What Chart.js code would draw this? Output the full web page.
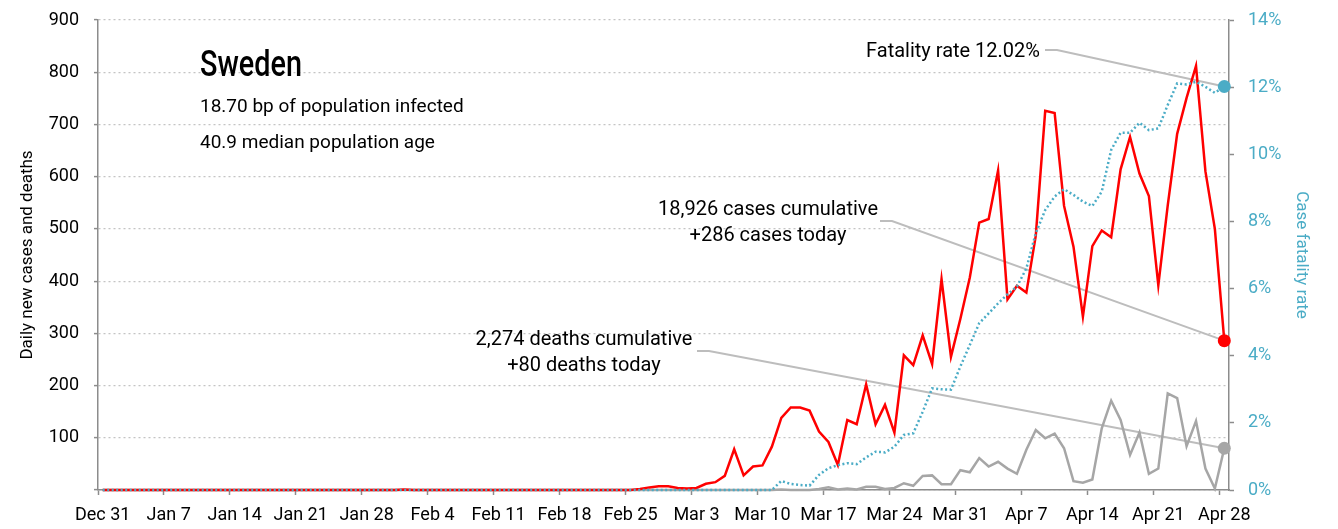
<!DOCTYPE html>
<html>
<head>
<meta charset="utf-8">
<script src="https://cdn.jsdelivr.net/npm/chart.js@4.4.1/dist/chart.umd.min.js"></script>
<style>
	body { margin: 0; background: #fff; }
	#wrap { width: 1338px; height: 529px; }
</style>
</head>
<body>
<div id="wrap"><canvas id="myChart" width="1338" height="529"></canvas></div>
<script>
	// one value per day, Dec 31 .. Apr 28 (7 per row = one week)
	var cases = [
		0, 0, 0, 0, 0, 0, 0,
		0, 0, 0, 0, 0, 0, 0,
		0, 0, 0, 0, 0, 0, 0,
		0, 0, 0, 0, 0, 0, 0,
		0, 0, 0, 0, 1, 0, 0,
		0, 0, 0, 0, 0, 0, 0,
		0, 0, 0, 0, 0, 0, 0,
		0, 0, 0, 0, 0, 0, 0,
		0, 2, 5, 7, 7, 4, 3,
		4, 12, 15, 27, 78, 28, 45,
		47, 83, 138, 158, 158, 152, 112,
		92, 48, 134, 126, 202, 126, 163,
		110, 258, 239, 296, 241, 404, 255,
		328, 407, 512, 519, 612, 365, 391,
		378, 487, 726, 722, 544, 466, 332,
		467, 497, 484, 614, 676, 606, 563,
		392, 545, 682, 751, 812, 610, 500,
		286
	];
	var deaths = [
		0, 0, 0, 0, 0, 0, 0,
		0, 0, 0, 0, 0, 0, 0,
		0, 0, 0, 0, 0, 0, 0,
		0, 0, 0, 0, 0, 0, 0,
		0, 0, 0, 0, 0, 0, 0,
		0, 0, 0, 0, 0, 0, 0,
		0, 0, 0, 0, 0, 0, 0,
		0, 0, 0, 0, 0, 0, 0,
		0, 0, 0, 0, 0, 0, 0,
		0, 0, 0, 0, 0, 0, 0,
		0, 0, 1, 0, 0, 0, 2,
		5, 1, 3, 1, 6, 6, 2,
		4, 13, 8, 27, 28, 11, 11,
		38, 34, 61, 45, 54, 41, 31,
		77, 115, 99, 108, 80, 17, 14,
		20, 118, 171, 134, 67, 110, 31,
		41, 185, 176, 84, 132, 41, 3,
		80
	];
	// case fatality rate, %
	var fatality = [
		0, 0, 0, 0, 0, 0, 0,
		0, 0, 0, 0, 0, 0, 0,
		0, 0, 0, 0, 0, 0, 0,
		0, 0, 0, 0, 0, 0, 0,
		0, 0, 0, 0, 0, 0, 0,
		0, 0, 0, 0, 0, 0, 0,
		0, 0, 0, 0, 0, 0, 0,
		0, 0, 0, 0, 0, 0, 0,
		0, 0, 0, 0, 0, 0, 0,
		0, 0, 0, 0, 0, 0, 0,
		0, 0, 0.27, 0.18, 0.15, 0.13, 0.45,
		0.65, 0.74, 0.80, 0.77, 0.97, 1.14, 1.12,
		1.29, 1.64, 1.69, 2.33, 3.03, 3.00, 2.99,
		3.68, 4.32, 4.97, 5.26, 5.56, 5.83, 6.06,
		6.60, 7.65, 8.34, 8.74, 8.96, 8.79, 8.59,
		8.46, 8.89, 10.13, 10.64, 10.64, 10.94, 10.72,
		10.77, 11.47, 12.11, 12.08, 12.16, 12.01, 11.83,
		12.02
	];
	var tickLabels = ['Dec 31', 'Jan 7', 'Jan 14', 'Jan 21', 'Jan 28', 'Feb 4', 'Feb 11', 'Feb 18',
		'Feb 25', 'Mar 3', 'Mar 10', 'Mar 17', 'Mar 24', 'Mar 31', 'Apr 7', 'Apr 14', 'Apr 21', 'Apr 28'];

	var country = 'Sweden';
	var infoLines = ['18.70 bp of population infected', '40.9 median population age'];
	var fatalityNote = ['Fatality rate 12.02%'];
	var casesNote = ['18,926 cases cumulative', '+286 cases today'];
	var deathsNote = ['2,274 deaths cumulative', '+80 deaths today'];

	var FONT = 'Roboto';
	var BLUE = '#4bacc6';
	var AXIS = '#8c8c8c';
	var last = cases.length - 1;

	// day i is drawn in the middle of its day slot
	function toPoints(arr) {
		var out = [];
		for (var i = 0; i < arr.length; i++) out.push({ x: i + 0.5, y: arr[i] });
		return out;
	}

	function endDot(ctx) {
		return ctx.dataIndex === last ? 6.5 : 0;
	}

	// fixed axis box size, no extra room asked above/below the plot
	function fixWidth(w) {
		return function (s) {
			s.width = w;
			s.paddingTop = 0;
			s.paddingBottom = 0;
		};
	}

	// leader line: text end -> short flat piece -> last point of a series
	function leader(chart, sx, sy, yScale, value) {
		var c = chart.ctx;
		var ex = chart.scales.x.getPixelForValue(last + 0.5);
		var ey = chart.scales[yScale].getPixelForValue(value);
		c.save();
		c.strokeStyle = '#bdbdbd';
		c.lineWidth = 2;
		c.beginPath();
		c.moveTo(sx, sy);
		c.lineTo(sx + 12, sy);
		c.lineTo(ex, ey);
		c.stroke();
		c.restore();
	}

	var notes = {
		id: 'notes',
		beforeDatasetsDraw: function (chart) {
			leader(chart, 1045, 50, 'y2', fatality[last]);
			leader(chart, 880, 221, 'y', cases[last]);
			leader(chart, 697, 351, 'y', deaths[last]);
		},
		afterDraw: function (chart) {
			var c = chart.ctx;
			c.save();
			c.fillStyle = '#000';
			c.textBaseline = 'middle';

			// title is a narrow face in the original, squeeze it a bit
			c.save();
			c.textAlign = 'left';
			c.translate(200, 67);
			c.scale(0.8, 1);
			c.font = '500 36px ' + FONT;
			c.fillText(country, 0, 0);
			c.restore();

			c.textAlign = 'left';
			c.font = '19px ' + FONT;
			c.fillText(infoLines[0], 200, 107);
			c.fillText(infoLines[1], 200, 143);

			c.font = '20px ' + FONT;
			c.textAlign = 'right';
			c.fillText(fatalityNote[0], 1040, 52);

			c.textAlign = 'center';
			c.fillText(casesNote[0], 768, 210);
			c.fillText(casesNote[1], 768, 236);
			c.fillText(deathsNote[0], 584, 340);
			c.fillText(deathsNote[1], 584, 366);
			c.restore();
		}
	};

	var ctx = document.getElementById('myChart').getContext('2d');

	window.chart_main = new Chart(ctx, {
		type: 'line',
		data: {
			datasets: [{
				label: 'Case fatality rate',
				data: toPoints(fatality),
				yAxisID: 'y2',
				borderColor: BLUE,
				borderWidth: 2.5,
				borderDash: [2, 2.5],
				pointRadius: endDot,
				pointBackgroundColor: BLUE,
				pointBorderWidth: 0,
				clip: 8
			}, {
				label: 'Daily new cases',
				data: toPoints(cases),
				yAxisID: 'y',
				borderColor: '#ff0000',
				borderWidth: 2.5,
				pointRadius: endDot,
				pointBackgroundColor: '#ff0000',
				pointBorderWidth: 0,
				clip: 8
			}, {
				label: 'Daily deaths',
				data: toPoints(deaths),
				yAxisID: 'y',
				borderColor: '#a6a6a6',
				borderWidth: 2.5,
				pointRadius: endDot,
				pointBackgroundColor: '#a6a6a6',
				pointBorderWidth: 0,
				clip: 8
			}]
		},
		options: {
			responsive: false,
			animation: false,
			devicePixelRatio: 1,
			layout: { padding: { top: 20, left: 0, right: 0, bottom: 0 } },
			plugins: {
				legend: { display: false },
				tooltip: { enabled: false }
			},
			elements: { line: { tension: 0 } },
			scales: {
				x: {
					type: 'linear',
					min: 0,
					max: 120,
					afterBuildTicks: function (s) {
						s.ticks = tickLabels.map(function (l, k) { return { value: k * 7 }; });
					},
					afterFit: function (s) { s.height = 39; },
					ticks: {
						autoSkip: false,
						maxRotation: 0,
						labelOffset: 4.7,
						padding: 10,
						color: '#000',
						font: { family: FONT, size: 18 },
						callback: function (v, i) { return tickLabels[i]; }
					},
					grid: { drawOnChartArea: false, tickLength: 5, tickColor: AXIS, tickWidth: 1.5 },
					border: { color: AXIS, width: 1.5 }
				},
				y: {
					position: 'left',
					min: 0,
					max: 900,
					afterFit: fixWidth(98),
					ticks: {
						stepSize: 100,
						padding: 15,
						color: '#000',
						font: { family: FONT, size: 18 },
						callback: function (v) { return v === 0 ? '' : v; }
					},
					grid: { color: '#c4c4c4', lineWidth: 1.2, tickLength: 4, tickColor: AXIS, tickWidth: 1.5 },
					border: { color: AXIS, width: 1.5, dash: [2, 3] },
					title: {
						display: true,
						text: 'Daily new cases and deaths',
						color: '#000',
						font: { family: FONT, size: 17 },
						padding: { top: 18, bottom: 0 }
					}
				},
				y2: {
					position: 'right',
					min: 0,
					max: 14,
					afterFit: fixWidth(109),
					ticks: {
						stepSize: 2,
						padding: 14,
						color: BLUE,
						font: { family: FONT, size: 18 },
						callback: function (v) { return v + '%'; }
					},
					grid: { drawOnChartArea: false, tickLength: 5, tickColor: AXIS, tickWidth: 1.5 },
					border: { color: AXIS, width: 1.5 },
					title: {
						display: true,
						text: 'Case fatality rate',
						color: BLUE,
						font: { family: FONT, size: 17 },
						padding: { top: 27, bottom: 0 }
					}
				}
			}
		},
		plugins: [notes]
	});
</script>
</body>
</html>
